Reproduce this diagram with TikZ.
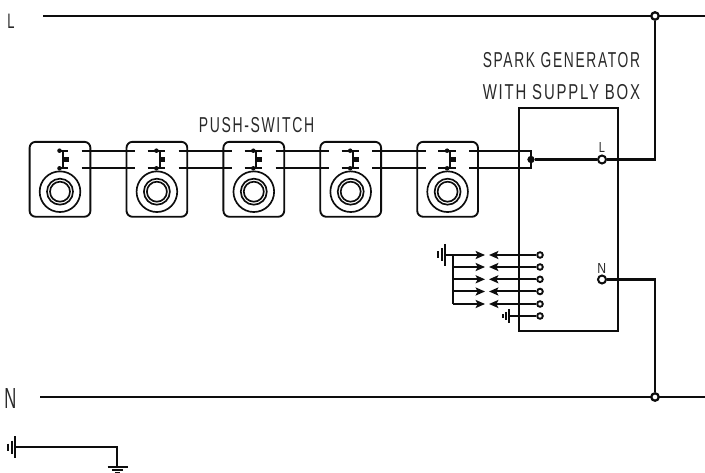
\documentclass[tikz,border=0pt]{standalone}
\usepackage{fontspec}
\setmainfont{Liberation Sans}
\newfontfamily\cadfont[LetterSpace=12]{Liberation Sans}
\usetikzlibrary{arrows.meta}
\definecolor{ink}{gray}{0.05}
\definecolor{labelgray}{gray}{0.16}
\tikzset{
  wire/.style={draw=ink,line width=1.6pt},
  thin wire/.style={draw=ink,line width=1.5pt},
  switchbox/.style={draw=ink,line width=1.4pt,rounded corners=4.5pt,minimum width=45.6pt,minimum height=56.2pt,inner sep=0pt},
  ring/.style={circle,draw=ink,line width=1.25pt,inner sep=0pt},
  terminal/.style={circle,draw=ink,fill=white,line width=1.5pt,inner sep=0pt,minimum size=6pt},
  smallterminal/.style={circle,draw=ink,fill=white,line width=1.4pt,inner sep=0pt,minimum size=4.2pt},
  junction/.style={circle,draw=ink,fill=ink,inner sep=0pt,minimum size=5pt},
  openjunction/.style={circle,draw=ink,line width=1.7pt,fill=white,inner sep=0pt,minimum size=5.6pt},
  swdot/.style={circle,fill=ink,inner sep=0pt,minimum size=3.4pt},
  gen/.style={draw=ink,line width=1.5pt,minimum width=74.5pt,minimum height=167.2pt,inner sep=0pt},
  arrowline/.style={draw=ink,line width=1.5pt,-{Stealth[length=7pt,width=6pt,inset=1.5pt]}},
  bar/.style={draw=ink,line width=1.5pt},
  cad/.style={text=labelgray,inner sep=0pt,anchor=north west},
  gndsym/.pic={
    \draw[bar] (0,-11) -- (0,11);
    \draw[bar] (-3.5,-6.5) -- (-3.5,6.5);
    \draw[bar] (-7,-3.5) -- (-7,3.5);
  },
  gndsmall/.pic={
    \draw[bar] (0,-6.5) -- (0,6.5);
    \draw[bar] (-3,-4) -- (-3,4);
    \draw[bar] (-6,-2) -- (-6,2);
  },
}
\newcommand{\cadtext}[3]{\resizebox{#1}{#2}{\cadfont #3}}
\begin{document}
\begin{tikzpicture}[x=0.75pt,y=-0.75pt]
\useasboundingbox (0,0) rectangle (705,473);
% mains
\coordinate (Ls) at (43,16); \coordinate (Le) at (705,16);
\coordinate (Ns) at (40,397); \coordinate (Ne) at (705,397);
\draw[wire] (Ls) -- (Le);
\draw[wire] (Ns) -- (Ne);
% generator box
\node[gen] (box) at (568.65,219.5) {};
% push switches
\foreach \i/\bx in {1/60,2/156.9,3/253.8,4/350.7,5/447.6}{
  \node[switchbox] (sw\i) at (\bx,179.3) {};
  \node[ring,minimum size=30.5pt] (ra\i) at (\bx,191.7) {};
  \node[ring,minimum size=19.5pt] (rb\i) at (\bx,191.7) {};
  \node[ring,minimum size=15pt] (rc\i) at (\bx,191.7) {};
}
% switch contacts
\foreach \i/\bx/\sta in {1/60/-0.5,2/156.9/-9.2,3/253.8/-9.2,4/350.7/-9.2,5/447.6/-9.2}{
  \begin{scope}[shift={(\bx,0)}]
    \coordinate (ta\i) at (\sta,150.7); \coordinate (tb\i) at (8,150.7);
    \coordinate (ba\i) at (\sta,168.3); \coordinate (bb\i) at (8,168.3);
    \coordinate (va\i) at (2.6,150.7); \coordinate (vb\i) at (2.6,168.3);
    \coordinate (pa\i) at (2.6,159.5); \coordinate (pb\i) at (8.5,159.5);
    \node[swdot] (da\i) at (-0.5,150.7) {};
    \node[swdot] (db\i) at (-0.5,168.3) {};
    \draw[thin wire] (ta\i) -- (tb\i);
    \draw[thin wire] (ba\i) -- (bb\i);
    \draw[thin wire] (va\i) -- (vb\i);
    \fill[ink] ([yshift=-2pt]pa\i) rectangle ([yshift=2pt]pb\i);
  \end{scope}
}
% wires between switches
\foreach \i/\xa/\xb in {1/81.7/135,2/178.6/232,3/275.5/329,4/372.4/426}{
  \coordinate (ua\i) at (\xa,150.7); \coordinate (ub\i) at (\xb,150.7);
  \coordinate (la\i) at (\xa,168.3); \coordinate (lb\i) at (\xb,168.3);
  \draw[wire] (ua\i) -- (ub\i);
  \draw[thin wire] (la\i) -- (lb\i);
}
% last wires to feed junction
\node[junction] (feed) at (531,159.5) {};
\coordinate (ua5) at (469.3,150.7); \coordinate (la5) at (469.3,168.3);
\draw[wire] (ua5) -- (531,150.7) -- (feed.center) -- (531,168.3) -- (la5);
% terminals and supply
\node[terminal] (tL) at (602,159.5) {};
\node[terminal] (tN) at (602,279.5) {};
\node[openjunction] (jL) at (655,16) {};
\node[openjunction] (jN) at (655,397) {};
\draw[wire] (feed) -- (tL);
\draw[wire] (tL) -- (655,159.5) -- (jL);
\draw[wire] (tN) -- (655,279.5) -- (jN);
% ignition outputs
\pic at (445,255) {gndsym};
\coordinate (g0) at (445,255);
\foreach \i/\yy in {1/255,2/267,3/279.3,4/291.5,5/304}{
  \node[smallterminal] (o\i) at (540,\yy) {};
  \coordinate (r\i) at (485,\yy);
  \coordinate (l\i) at (489,\yy);
  \coordinate (h\i) at (452.7,\yy);
  \draw[arrowline] (o\i) -- (l\i);
  \draw[arrowline] (h\i) -- (r\i);
}
\draw[thin wire] (g0) -- (h1);
\draw[thin wire] (h1) -- (h5);
\node[smallterminal] (o6) at (540,316) {};
\pic at (508.5,316) {gndsmall};
\coordinate (g6) at (508.5,316);
\draw[thin wire] (g6) -- (o6);
% bottom earth
\pic at (15,447) {gndsym};
\coordinate (ge) at (15,447);
\coordinate (ec) at (117,447);
\coordinate (ed) at (117,466.7);
\draw[thin wire] (ge) -- (ec) -- (ed);
\draw[bar] (107.5,466.7) -- (127.5,466.7);
\draw[bar] (112,470) -- (123,470);
\draw[bar] (115,472.8) -- (120,472.8);
% labels
\node[cad] (labL) at (7,14) {\cadtext{5.4pt}{10.8pt}{L}};
\node[cad] (labN) at (4,388) {\cadtext{9pt}{15pt}{N}};
\node[cad] (labS) at (482.5,52) {\cadtext{118pt}{11.3pt}{SPARK GENERATOR}};
\node[cad] (labW) at (482.5,84) {\cadtext{118pt}{11.3pt}{WITH SUPPLY BOX}};
\node[cad] (labP) at (198.5,117) {\cadtext{86.5pt}{11.3pt}{PUSH-SWITCH}};
\node[cad] (labtL) at (598.5,142.5) {\cadtext{4.6pt}{7.5pt}{L}};
\node[cad] (labtN) at (597,263) {\cadtext{6.6pt}{7.5pt}{N}};
\end{tikzpicture}
\end{document}
